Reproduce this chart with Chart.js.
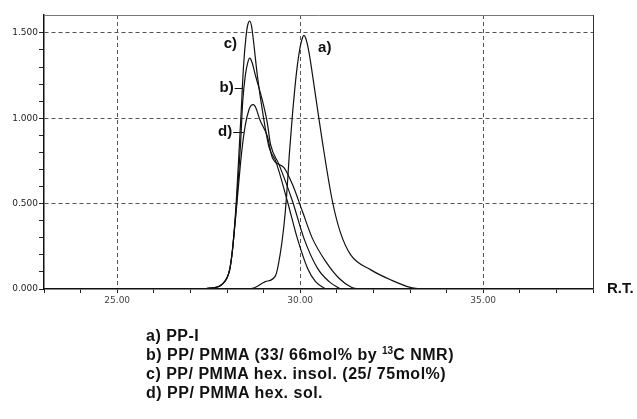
<!DOCTYPE html>
<html>
<head>
<meta charset="utf-8">
<script src="https://cdn.jsdelivr.net/npm/chart.js@4"></script>
<style>
body { margin: 0; background: #fff; }
#wrap { position: relative; width: 637px; height: 419px; }
#legend { position: absolute; left: 146px; top: 326px; font: bold 16px "Liberation Sans", Arial, sans-serif; letter-spacing: 0.5px; line-height: 19px; color: #111; white-space: nowrap; }
#legend sup { font-size: 10px; letter-spacing: 0; line-height: 0; vertical-align: 6px; }
</style>
</head>
<body>
<div id="wrap">
<canvas id="chart" width="637" height="419"></canvas>
<div id="legend">
a) PP-I<br>
b) PP/ PMMA (33/ 66mol% by <sup>13</sup>C NMR)<br>
c) PP/ PMMA hex. insol. (25/ 75mol%)<br>
d) PP/ PMMA hex. sol.
</div>
</div>
<script>
// retention time (R.T.) and detector response
var rtA  = [28.4, 28.69, 29.05, 29.33, 29.45, 29.55, 29.63, 29.7, 29.78, 29.9, 30.0, 30.06, 30.1, 30.15, 30.24, 30.38, 30.5, 30.61, 30.88, 31.1, 31.38, 31.93, 32.48, 33.03, 33.3];
var valA = [0, 0.004, 0.043, 0.08, 0.2, 0.36, 0.55, 0.78, 1.0, 1.27, 1.42, 1.47, 1.486, 1.47, 1.386, 1.19, 1.014, 0.857, 0.514, 0.33, 0.2, 0.112, 0.053, 0.008, 0];

var rtB  = [27.3, 27.55, 27.88, 28.07, 28.15, 28.26, 28.37, 28.43, 28.5, 28.56, 28.62, 28.68, 28.78, 28.96, 29.1, 29.19, 29.42, 29.79, 30.1, 30.47, 30.79, 31.1];
var valB = [0, 0.005, 0.03, 0.11, 0.23, 0.5, 0.85, 1.1, 1.25, 1.32, 1.352, 1.33, 1.249, 1.11, 0.975, 0.847, 0.73, 0.514, 0.298, 0.122, 0.043, 0];

var rtC  = [27.3, 27.55, 27.88, 28.07, 28.15, 28.25, 28.34, 28.39, 28.45, 28.52, 28.57, 28.62, 28.67, 28.72, 28.83, 28.99, 29.15, 29.33, 29.65, 29.92, 30.2, 30.42, 30.7];
var valC = [0, 0.005, 0.03, 0.11, 0.23, 0.5, 0.85, 1.05, 1.3, 1.48, 1.55, 1.57, 1.54, 1.46, 1.249, 1.014, 0.83, 0.749, 0.514, 0.298, 0.122, 0.043, 0];

var rtD  = [27.3, 27.55, 27.88, 28.07, 28.15, 28.27, 28.4, 28.5, 28.6, 28.66, 28.72, 28.79, 28.9, 29.1, 29.24, 29.56, 29.79, 30.06, 30.33, 30.7, 31.06, 31.4, 31.6];
var valD = [0, 0.005, 0.03, 0.11, 0.23, 0.5, 0.8, 0.96, 1.05, 1.075, 1.08, 1.06, 0.99, 0.896, 0.769, 0.71, 0.612, 0.455, 0.298, 0.16, 0.063, 0.01, 0];

var xTicks  = [23, 24, 25, 26, 27, 28, 29, 30, 31, 32, 33, 34, 35, 36, 37, 38];
var xLabels = [25, 30, 35];
var yTicks  = [0, 0.1, 0.2, 0.3, 0.4, 0.5, 0.6, 0.7, 0.8, 0.9, 1, 1.1, 1.2, 1.3, 1.4, 1.5];
var yLabels = [0, 0.5, 1, 1.5];

// curve tags: text, R.T., response; leader = R.T. where the short line ends
var tagText = ["a)", "b)", "c)", "d)"];
var tagRT   = [30.67, 27.99, 28.09, 27.95];
var tagVal  = [1.41, 1.18, 1.435, 0.918];
var tagLead = [null, 28.42, null, 28.46];

function pts(xs, ys) {
  var out = [];
  for (var i = 0; i < xs.length; i++) out.push({x: xs[i], y: ys[i]});
  return out;
}
function series(name, xs, ys) {
  return {label: name, data: pts(xs, ys), borderColor: "#111", borderWidth: 1.2, fill: false};
}

// frame, tags and the R.T. caption
var extras = {
  id: "extras",
  afterDatasetsDraw: function(chart) {
    var c = chart.ctx, a = chart.chartArea;
    var sx = chart.scales.x, sy = chart.scales.y;
    c.save();
    c.lineWidth = 1;
    c.strokeStyle = "#777";
    c.beginPath(); c.moveTo(a.left, a.top + 0.5); c.lineTo(a.right, a.top + 0.5); c.stroke();
    c.strokeStyle = "#333";
    c.beginPath(); c.moveTo(a.right + 0.5, a.top); c.lineTo(a.right + 0.5, a.bottom); c.stroke();

    c.fillStyle = "#111";
    c.font = "bold 15px 'Liberation Sans', Arial, sans-serif";
    c.textAlign = "center";
    c.textBaseline = "middle";
    for (var i = 0; i < tagText.length; i++) {
      var px = sx.getPixelForValue(tagRT[i]);
      var py = sy.getPixelForValue(tagVal[i]);
      c.fillText(tagText[i], px, py);
      if (tagLead[i] !== null) {
        c.strokeStyle = "#111";
        c.beginPath();
        c.moveTo(px + 8, Math.round(py) + 0.5);
        c.lineTo(sx.getPixelForValue(tagLead[i]), Math.round(py) + 0.5);
        c.stroke();
      }
    }
    c.textAlign = "left";
    c.fillText("R.T.", a.right + 14, a.bottom);
    c.restore();
  }
};

new Chart(document.getElementById("chart"), {
  type: "line",
  data: {
    datasets: [
      series("a", rtA, valA),
      series("b", rtB, valB),
      series("c", rtC, valC),
      series("d", rtD, valD)
    ]
  },
  plugins: [extras],
  options: {
    responsive: false,
    animation: false,
    devicePixelRatio: 1,
    layout: {padding: {left: 0, top: 15, right: 44, bottom: 110}},
    elements: {
      point: {radius: 0},
      line: {cubicInterpolationMode: "monotone"}
    },
    plugins: {legend: {display: false}, tooltip: {enabled: false}},
    scales: {
      x: {
        type: "linear", min: 23, max: 38,
        afterBuildTicks: function(s) { s.ticks = xTicks.map(function(v) { return {value: v}; }); },
        afterFit: function(s) { s.height = 20; },
        ticks: {
          autoSkip: false, maxRotation: 0, padding: 2, color: "#444",
          font: {family: "DejaVu Sans", size: 9},
          callback: function(v) { return xLabels.indexOf(v) >= 0 ? v.toFixed(2) : ""; }
        },
        grid: {
          color: function(ctx) { return ctx.tick && xLabels.indexOf(ctx.tick.value) >= 0 ? "#555" : "transparent"; },
          tickColor: "#222", tickLength: 4, lineWidth: 1
        },
        border: {color: "#111", width: 1.5, dash: [4, 3]}
      },
      y: {
        min: 0, max: 1.605,
        afterBuildTicks: function(s) { s.ticks = yTicks.map(function(v) { return {value: v}; }); },
        afterFit: function(s) { s.width = 44; },
        ticks: {
          padding: 1, color: "#222",
          font: {family: "DejaVu Sans", size: 9},
          callback: function(v) { return yLabels.indexOf(v) >= 0 ? v.toFixed(3) : ""; }
        },
        grid: {
          color: function(ctx) { return ctx.tick && ctx.tick.value > 0 && yLabels.indexOf(ctx.tick.value) >= 0 ? "#555" : "transparent"; },
          tickColor: "#222", tickLength: 5, lineWidth: 1
        },
        border: {color: "#111", width: 1.5, dash: [4, 3]}
      }
    }
  }
});
</script>
</body>
</html>
